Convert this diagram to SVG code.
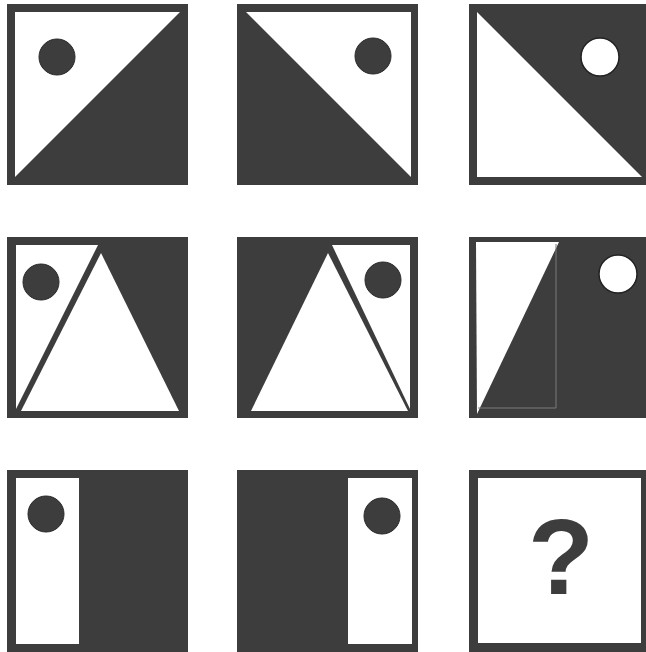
<svg xmlns="http://www.w3.org/2000/svg" width="646" height="652" viewBox="0 0 646 652">
<style>
.frame{fill:#3d3d3d}
.w{fill:#ffffff}
.dot{fill:#3d3d3d;stroke:#2a2a2a;stroke-width:1}
.wdot{fill:#ffffff;stroke:#222;stroke-width:1.5}
.q{font-family:"Liberation Sans",Arial,sans-serif;font-weight:bold;font-size:108px;fill:#3d3d3d}
</style>
<rect width="646" height="652" fill="#ffffff"/>
<g id="r1c1">
<rect class="frame" x="7" y="4" width="181" height="181"/>
<polygon class="w" points="15,12 180,12 15,177"/>
<circle class="dot" cx="57" cy="57" r="18"/>
</g>
<g id="r1c2">
<rect class="frame" x="237" y="4" width="181" height="181"/>
<polygon class="w" points="246,12 411,12 411,177"/>
<circle class="dot" cx="373" cy="56" r="18"/>
</g>
<g id="r1c3">
<rect class="frame" x="469" y="4" width="181" height="181"/>
<polygon class="w" points="477,12 477,177 642,177"/>
<circle class="wdot" cx="600" cy="57" r="19"/>
</g>
<g id="r2c1">
<rect class="frame" x="7" y="237" width="181" height="181"/>
<polygon class="w" points="16,245 98,245 16,409"/>
<polygon class="w" points="101,253 21,411 179,411"/>
<circle class="dot" cx="41" cy="282" r="18"/>
</g>
<g id="r2c2">
<rect class="frame" x="237" y="237" width="181" height="181"/>
<polygon class="w" points="410,245 332,245 410,409"/>
<polygon class="w" points="328,253 251,411 408,411"/>
<circle class="dot" cx="383" cy="280" r="18"/>
</g>
<g id="r2c3">
<rect class="frame" x="469" y="237" width="181" height="181"/>
<polygon class="w" points="476,242 559,242 477,414"/>
<polyline points="556,244 556,408 478,408" fill="none" stroke="#7a7a7a" stroke-width="1"/>
<circle class="wdot" cx="618" cy="274" r="19"/>
</g>
<g id="r3c1">
<rect class="frame" x="7" y="470" width="181" height="190"/>
<rect class="w" x="16" y="478" width="63" height="166"/>
<circle class="dot" cx="46" cy="514" r="18"/>
</g>
<g id="r3c2">
<rect class="frame" x="237" y="470" width="181" height="190"/>
<rect class="w" x="348" y="478" width="64" height="166"/>
<circle class="dot" cx="382" cy="516" r="18"/>
</g>
<g id="r3c3">
<rect class="frame" x="469" y="470" width="181" height="190"/>
<rect class="w" x="478" y="478" width="163" height="165"/>
<text class="q" x="561" y="594" text-anchor="middle">?</text>
</g>
<g id="connectors"></g>
</svg>
